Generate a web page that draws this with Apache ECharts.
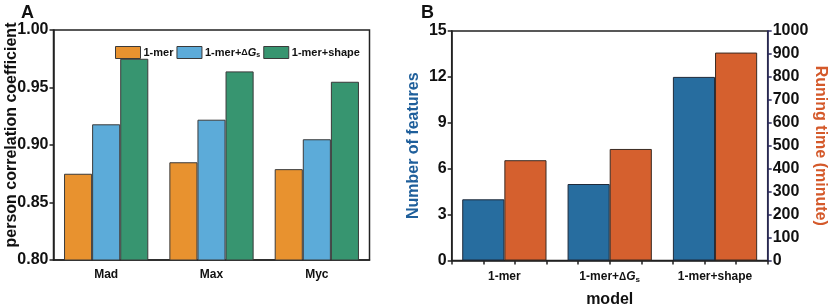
<!DOCTYPE html>
<html>
<head>
<meta charset="utf-8">
<script src="https://cdn.jsdelivr.net/npm/echarts@6/dist/echarts.min.js"></script>
<style>
  html, body {margin:0; padding:0; background:#fff;}
  #main {width:829px; height:306px;}
</style>
</head>
<body>
<div id="main"></div>
<script>
// panel A: correlation per dataset
var groupsA = ['Mad', 'Max', 'Myc'];
var merA = [0.875, 0.885, 0.879];
var dgA = [0.918, 0.922, 0.905];
var shapeA = [0.975, 0.964, 0.955];

// panel B: model size and time
var modelsB = ['1-mer', '1-mer+ΔGs', '1-mer+shape'];
var featB = [4, 5, 12];
var timeB = [437, 486, 906];

var FONT = '"Liberation Sans", Arial, sans-serif';

// 1-mer+ΔGs -> rich text with italic G and subscript s
function richName(v){
  if(v.indexOf('ΔGs') >= 0){
    return '{a|1-mer+}{d|Δ}{g|G}{s|s}';
  }
  return '{a|' + v + '}';
}
function richStyle(sz){
  return {
    a: {fontSize: sz, fontWeight: 'bold', fontFamily: FONT, color: '#111'},
    d: {fontSize: sz - 2, fontWeight: 'bold', fontFamily: FONT, color: '#111'},
    g: {fontSize: sz, fontWeight: 'bold', fontStyle: 'italic', fontFamily: FONT, color: '#111'},
    s: {fontSize: sz - 4, fontWeight: 'bold', fontFamily: FONT, color: '#111', verticalAlign: 'bottom', padding: [5, 0, 0, 0]}
  };
}

var chart = echarts.init(document.getElementById('main'));

var option = {
  backgroundColor: '#fff',
  animation: false,
  textStyle: {fontFamily: FONT},
  title: [
    {text: 'A', left: 16, top: -1, textStyle: {fontSize: 18, fontWeight: 'bold', color: '#111', fontFamily: FONT}},
    {text: 'B', left: 416, top: -1, textStyle: {fontSize: 18, fontWeight: 'bold', color: '#111', fontFamily: FONT}}
  ],
  legend: {
    data: ['1-mer', '1-mer+ΔGs', '1-mer+shape'],
    left: 110, top: 41,
    icon: 'rect',
    itemWidth: 25, itemHeight: 12, itemGap: 3,
    formatter: richName,
    itemStyle: {borderColor: '#3a3a3a', borderWidth: 1},
    textStyle: {rich: richStyle(11), padding: [0, 0, 0, -2]}
  },
  grid: [
    {left: 53.5, right: 459.5, top: 30, bottom: 46, outerBoundsMode: 'none', show: true, borderColor: '#222', borderWidth: 1.5, backgroundColor: 'transparent'},
    {left: 451.7, right: 61.3, top: 31, bottom: 45.5, outerBoundsMode: 'none', show: true, borderColor: '#222', borderWidth: 1.5, backgroundColor: 'transparent'}
  ],
  xAxis: [
    {
      type: 'category', data: groupsA, gridIndex: 0,
      axisLine: {lineStyle: {color: '#222', width: 1.5}},
      axisTick: {alignWithLabel: true, length: 4, lineStyle: {color: '#222', width: 1.5}},
      axisLabel: {fontSize: 12, fontWeight: 'bold', color: '#111', margin: 9}
    },
    {
      type: 'category', data: modelsB, gridIndex: 1,
      name: 'model', nameLocation: 'middle', nameGap: 31,
      nameTextStyle: {fontSize: 16, fontWeight: 'bold', color: '#111'},
      axisLine: {lineStyle: {color: '#222', width: 1.5}},
      axisTick: {alignWithLabel: true, length: 4, lineStyle: {color: '#222', width: 1.5}},
      axisLabel: {margin: 10, interval: 0, formatter: richName, rich: richStyle(12)}
    },
    {
      // small inside ticks along the top edge of panel B
      type: 'value', gridIndex: 1, position: 'top', min: 0, max: 10, interval: 1,
      axisLine: {show: false},
      axisTick: {inside: true, length: 4, lineStyle: {color: '#222', width: 1.5}},
      axisLabel: {show: false}, splitLine: {show: false}
    }
  ],
  yAxis: [
    {
      type: 'value', gridIndex: 0, min: 0.8, max: 1.0, interval: 0.05,
      name: 'person correlation coefficient', nameLocation: 'middle', nameGap: 34,
      nameMoveOverlap: false,
      nameTextStyle: {fontSize: 16, fontWeight: 'bold', color: '#111', padding: [0, 0, 0, 20]},
      axisLine: {show: true, lineStyle: {color: '#222', width: 1.5}},
      axisTick: {show: true, length: 4, lineStyle: {color: '#222', width: 1.5}},
      axisLabel: {fontSize: 16, fontWeight: 'bold', color: '#111', margin: 5,
        formatter: function(v){ return v.toFixed(2); }},
      splitLine: {show: false}
    },
    {
      type: 'value', gridIndex: 1, min: 0, max: 15, interval: 3,
      name: 'Number of features', nameLocation: 'middle', nameGap: 30,
      nameTextStyle: {fontSize: 16, fontWeight: 'bold', color: '#1f5f9b'},
      axisLine: {show: true, lineStyle: {color: '#222', width: 1.5}},
      axisTick: {show: true, length: 4, lineStyle: {color: '#222', width: 1.5}},
      axisLabel: {fontSize: 16, fontWeight: 'bold', color: '#111', margin: 5},
      splitLine: {show: false}
    },
    {
      type: 'value', gridIndex: 1, position: 'right', min: 0, max: 1000, interval: 100,
      name: 'Runing time (minute)', nameLocation: 'middle', nameGap: 44, nameRotate: -90,
      nameTextStyle: {fontSize: 16, fontWeight: 'bold', color: '#d4592a'},
      axisLine: {show: true, lineStyle: {color: '#2b2b5e', width: 1.5}},
      axisTick: {show: true, length: 4, lineStyle: {color: '#2b2b5e', width: 1.5}},
      axisLabel: {fontSize: 16, fontWeight: 'bold', color: '#111', margin: 5,
        formatter: function(v){ return String(v); }},
      splitLine: {show: false}
    }
  ],
  series: [
    {name: '1-mer', type: 'bar', xAxisIndex: 0, yAxisIndex: 0, data: merA,
      barGap: 0, barCategoryGap: '20%',
      itemStyle: {color: '#e8922f', borderColor: '#3a3a3a', borderWidth: 1}},
    {name: '1-mer+ΔGs', type: 'bar', xAxisIndex: 0, yAxisIndex: 0, data: dgA,
      barGap: 0, barCategoryGap: '20%',
      itemStyle: {color: '#5cabd9', borderColor: '#3a3a3a', borderWidth: 1}},
    {name: '1-mer+shape', type: 'bar', xAxisIndex: 0, yAxisIndex: 0, data: shapeA,
      barGap: 0, barCategoryGap: '20%',
      itemStyle: {color: '#379570', borderColor: '#3a3a3a', borderWidth: 1}},
    {name: 'Number of features', type: 'bar', xAxisIndex: 1, yAxisIndex: 1, data: featB,
      barGap: 0, barCategoryGap: '20%',
      itemStyle: {color: '#276d9f', borderColor: '#1f2a3a', borderWidth: 1}},
    {name: 'Runing time', type: 'bar', xAxisIndex: 1, yAxisIndex: 2, data: timeB,
      barGap: 0, barCategoryGap: '20%',
      itemStyle: {color: '#d5602e', borderColor: '#3a2a22', borderWidth: 1}}
  ]
};
chart.setOption(option);
</script>
</body>
</html>
